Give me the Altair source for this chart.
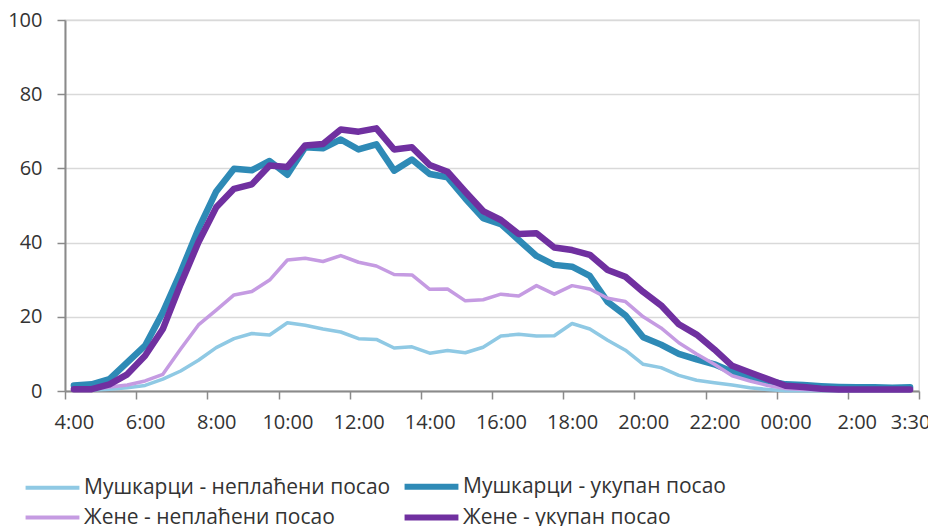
import altair as alt
import pandas as pd

times = ["4:00", "4:30", "5:00", "5:30", "6:00", "6:30", "7:00", "7:30",
         "8:00", "8:30", "9:00", "9:30", "10:00", "10:30", "11:00", "11:30",
         "12:00", "12:30", "13:00", "13:30", "14:00", "14:30", "15:00", "15:30",
         "16:00", "16:30", "17:00", "17:30", "18:00", "18:30", "19:00", "19:30",
         "20:00", "20:30", "21:00", "21:30", "22:00", "22:30", "23:00", "23:30",
         "00:00", "00:30", "1:00", "1:30", "2:00", "2:30", "3:00", "3:30"]

men_unpaid = [0.2, 0.3, 0.5, 0.9, 1.5, 3.2, 5.4, 8.3, 11.7, 14.1, 15.5, 15.1,
              18.4, 17.7, 16.7, 15.9, 14.1, 13.9, 11.6, 11.9, 10.2, 10.9, 10.3, 11.8,
              14.8, 15.3, 14.8, 14.9, 18.2, 16.7, 13.7, 11.0, 7.2, 6.3, 4.2, 2.9,
              2.2, 1.6, 0.9, 0.4, 0.1, 0.1, 0.1, 0.1, 0.1, 0.1, 0.1, 0.1]
men_total = [1.5, 1.8, 3.2, 7.7, 12.2, 21.2, 32.0, 43.7, 53.8, 59.9, 59.5, 62.0,
             58.3, 65.7, 65.4, 67.8, 65.1, 66.5, 59.4, 62.4, 58.5, 57.6, 51.9, 46.6,
             45.0, 40.7, 36.4, 34.0, 33.5, 31.0, 24.0, 20.4, 14.5, 12.5, 10.0, 8.5,
             7.2, 5.2, 3.8, 2.7, 1.8, 1.6, 1.3, 1.1, 1.0, 1.0, 0.9, 1.0]
women_unpaid = [0.5, 0.5, 1.1, 1.6, 2.7, 4.5, 11.3, 17.8, 21.8, 25.9, 26.8, 29.9,
                35.3, 35.8, 34.9, 36.5, 34.7, 33.7, 31.4, 31.3, 27.4, 27.5, 24.3, 24.6,
                26.1, 25.6, 28.4, 26.1, 28.4, 27.5, 25.0, 24.1, 20.0, 17.0, 13.0, 10.0,
                7.2, 4.1, 2.7, 1.5, 0.7, 0.4, 0.3, 0.2, 0.2, 0.2, 0.2, 0.2]
women_total = [0.5, 0.5, 1.8, 4.5, 9.5, 16.7, 28.8, 40.1, 49.5, 54.5, 55.7, 60.8,
               60.4, 66.2, 66.6, 70.5, 69.9, 70.8, 65.1, 65.7, 60.9, 59.1, 53.7, 48.5,
               46.1, 42.3, 42.5, 38.7, 38.0, 36.7, 32.6, 30.8, 26.7, 23.1, 18.0, 15.2,
               11.2, 6.8, 5.0, 3.2, 1.4, 1.1, 0.6, 0.4, 0.4, 0.4, 0.4, 0.4]

series_names = ["Мушкарци - неплаћени посао", "Мушкарци - укупан посао",
                "Жене - неплаћени посао", "Жене - укупан посао"]
series_values = [men_unpaid, men_total, women_unpaid, women_total]
colors = ["#8FC9E4", "#2E8AB6", "#C59BE2", "#7030A0"]
widths = [3.5, 6.5, 3.5, 6.5]

rows = []
for name, vals in zip(series_names, series_values):
    for i, (t, v) in enumerate(zip(times, vals)):
        rows.append({"series": name, "time": t, "slot": i + 0.5, "value": v})
df = pd.DataFrame(rows)

n = len(times)
tick_vals = list(range(0, n + 1, 4))
tick_labels = [times[v] if v < n else times[-1] for v in tick_vals]
label_expr = "[" + ",".join("'" + s + "'" for s in tick_labels) + "][datum.value / 4]"

FONT = "Open Sans"
TXT = "#333333"
AX = "#8a8a8a"

x_enc = alt.X(
    "slot:Q",
    scale=alt.Scale(domain=[0, n], nice=False, zero=False),
    axis=alt.Axis(
        values=tick_vals, labelExpr=label_expr, title=None, grid=False,
        tickSize=8, tickColor=AX, domainColor=AX, domainWidth=2, tickWidth=1.5,
        labelFont=FONT, labelFontSize=20, labelColor=TXT, labelPadding=13,
        labelOffset={"condition": {"test": "datum.value == %d" % n, "value": -8.9}, "value": 8.9},
        labelOverlap=False, labelFlush=False,
    ),
)
y_enc = alt.Y(
    "value:Q",
    scale=alt.Scale(domain=[0, 100], nice=False),
    axis=alt.Axis(
        values=[0, 20, 40, 60, 80, 100], title=None, grid=True,
        gridColor="#d9d9d9", gridWidth=1.3,
        tickSize=8, tickColor=AX, domainColor=AX, domainWidth=2, tickWidth=1.5,
        labelFont=FONT, labelFontSize=20, labelColor=TXT, labelPadding=15,
    ),
)
thick_names = [s for s, w in zip(series_names, widths) if w > 5]
thick_test = " || ".join("datum.value == '%s'" % s for s in thick_names)
legend = alt.Legend(
    title=None, orient="none", legendX=-23, legendY=456, columns=2,
    direction="horizontal",
    symbolType="stroke", symbolSize=2900, labelFont=FONT, labelFontSize=21,
    labelColor=TXT, labelLimit=500, columnPadding=1, rowPadding=6, labelOffset=21,
    padding=0,
    symbolStrokeWidth={"expr": "datum && (%s) ? 6 : 4" % thick_test},
)
color_enc = alt.Color("series:N", scale=alt.Scale(domain=series_names, range=colors), legend=legend)

layers = []
for name, w in zip(series_names, widths):
    layers.append(
        alt.Chart(df)
        .transform_filter(alt.datum.series == name)
        .mark_line(strokeJoin="round", strokeCap="round", strokeWidth=w)
        .encode(x=x_enc, y=y_enc, color=color_enc)
    )

chart = (
    alt.layer(*layers)
    .properties(
        width=854, height=371, autosize="none",
        padding={"left": 57, "top": 12, "right": 9, "bottom": 140},
        background="white",
    )
    .configure_view(stroke="#d9d9d9", strokeWidth=1.3)
)

chart.save("out.html", embed_options={"renderer": "svg", "actions": False})
